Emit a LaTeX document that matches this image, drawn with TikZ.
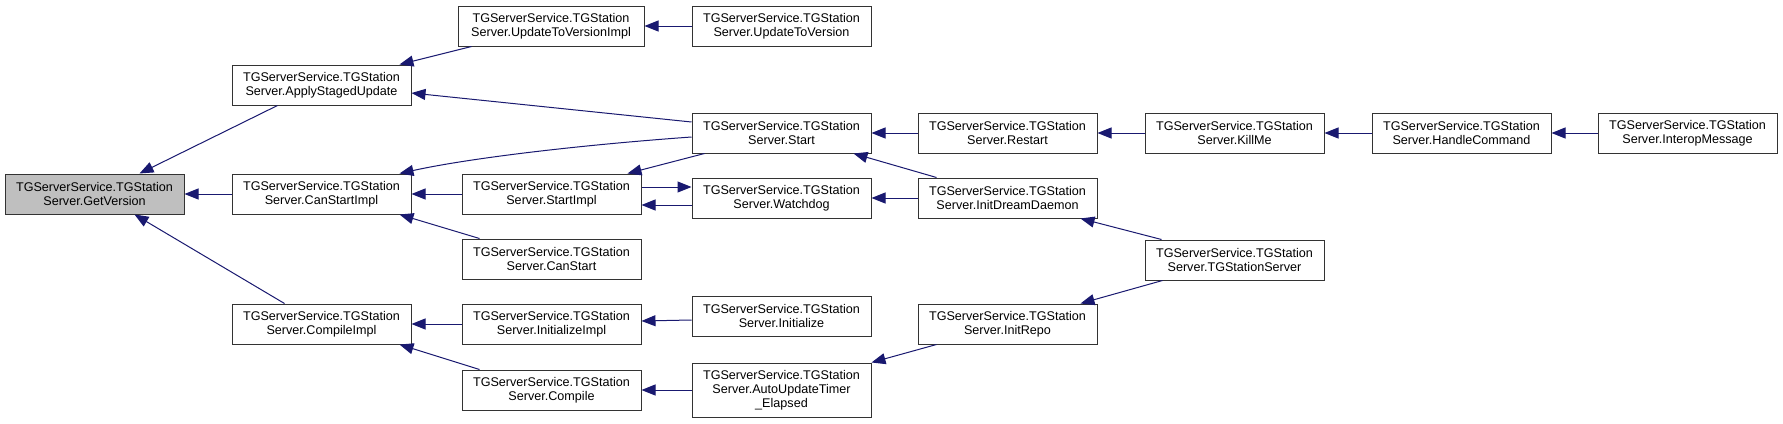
\documentclass[tikz,border=0pt]{standalone}
\usepackage{fontspec}
\setmainfont{Liberation Sans}
\usetikzlibrary{arrows.meta,calc}
\definecolor{edgeblue}{HTML}{191970}
\definecolor{boxgray}{HTML}{BFBFBF}
\tikzset{
  fn/.style={draw=black!80, line width=1pt, fill=white, minimum width=179pt, minimum height=40pt,
    inner sep=0pt, align=center, font=\fontsize{12.6}{14}\selectfont},
  cur/.style={fn, fill=boxgray},
  call/.style={draw=edgeblue, line width=1pt, {Triangle[length=14pt,width=11pt]}-},
}
\begin{document}
\begin{tikzpicture}[x=1pt,y=-1pt]
\useasboundingbox[fill=white] (0,0) rectangle (1783,423);
% nodes
\node[cur] (gv) at (94.5,194) {TGServerService.TGStation\\Server.GetVersion};
\node[fn] (asu) at (321.5,85) {TGServerService.TGStation\\Server.ApplyStagedUpdate};
\node[fn] (csi) at (321.5,194) {TGServerService.TGStation\\Server.CanStartImpl};
\node[fn] (ci) at (321.5,324) {TGServerService.TGStation\\Server.CompileImpl};
\node[fn, minimum width=186pt] (utvi) at (551,26) {TGServerService.TGStation\\Server.UpdateToVersionImpl};
\node[fn] (si) at (551.5,194) {TGServerService.TGStation\\Server.StartImpl};
\node[fn] (cs) at (551.5,259) {TGServerService.TGStation\\Server.CanStart};
\node[fn] (ii) at (551.5,324) {TGServerService.TGStation\\Server.InitializeImpl};
\node[fn] (comp) at (551.5,390) {TGServerService.TGStation\\Server.Compile};
\node[fn] (utv) at (781.5,26) {TGServerService.TGStation\\Server.UpdateToVersion};
\node[fn] (start) at (781.5,133) {TGServerService.TGStation\\Server.Start};
\node[fn] (wd) at (781.5,198) {TGServerService.TGStation\\Server.Watchdog};
\node[fn] (init) at (781.5,316) {TGServerService.TGStation\\Server.Initialize};
\node[fn, minimum height=54pt] (aut) at (781.5,390) {TGServerService.TGStation\\Server.AutoUpdateTimer\\\_Elapsed};
\node[fn] (restart) at (1007.5,133) {TGServerService.TGStation\\Server.Restart};
\node[fn] (idd) at (1007.5,198) {TGServerService.TGStation\\Server.InitDreamDaemon};
\node[fn] (ir) at (1007.5,324) {TGServerService.TGStation\\Server.InitRepo};
\node[fn] (kill) at (1234.5,133) {TGServerService.TGStation\\Server.KillMe};
\node[fn] (tgs) at (1234.5,260) {TGServerService.TGStation\\Server.TGStationServer};
\node[fn] (hc) at (1461.5,133) {TGServerService.TGStation\\Server.HandleCommand};
\node[fn] (im) at (1687.5,133) {TGServerService.TGStation\\Server.InteropMessage};
% edges (arrowhead at callee)
\draw[call] ($(gv.north west)+(135,0)$) -- ($(asu.south west)+(46,0)$);
\draw[call] (gv.east) -- (csi.west);
\draw[call] ($(gv.south west)+(130,0)$) -- ($(ci.north west)+(53,0)$);
\draw[call] ($(asu.north west)+(168,0)$) -- ($(utvi.south west)+(14,0)$);
\draw[call] ($(asu.east)+(0,8)$) -- ($(start.west)+(0,-11)$);
\draw[call] (utvi.east) -- (utv.west);
\draw[call] ($(csi.north west)+(168,0)$) .. controls (470,158) and (580,145) .. ($(start.west)+(0,4)$);
\draw[call] (csi.east) -- (si.west);
\draw[call] ($(csi.south west)+(168,0)$) -- ($(cs.north west)+(18,0)$);
\draw[call] ($(si.north west)+(166,0)$) -- ($(start.south west)+(13,0)$);
\draw[call] ($(wd.west)+(0,-11)$) -- ($(si.east)+(0,-7)$);
\draw[call] ($(si.east)+(0,11)$) -- ($(wd.west)+(0,7)$);
\draw[call] (start.east) -- (restart.west);
\draw[call] ($(start.south east)+(-18,0)$) -- ($(idd.north west)+(19,0)$);
\draw[call] (wd.east) -- (idd.west);
\draw[call] (restart.east) -- (kill.west);
\draw[call] (kill.east) -- (hc.west);
\draw[call] (hc.east) -- (im.west);
\draw[call] ($(idd.south east)+(-17,0)$) -- ($(tgs.north west)+(17,0)$);
\draw[call] ($(ir.north east)+(-17,0)$) -- ($(tgs.south west)+(18,0)$);
\draw[call] (aut.north east) -- ($(ir.south west)+(19,0)$);
\draw[call] (ci.east) -- (ii.west);
\draw[call] ($(ci.south west)+(168,0)$) -- ($(comp.north west)+(18,0)$);
\draw[call] ($(ii.east)+(0,-3)$) -- ($(init.west)+(0,4)$);
\draw[call] (comp.east) -- (aut.west);
\end{tikzpicture}
\end{document}
